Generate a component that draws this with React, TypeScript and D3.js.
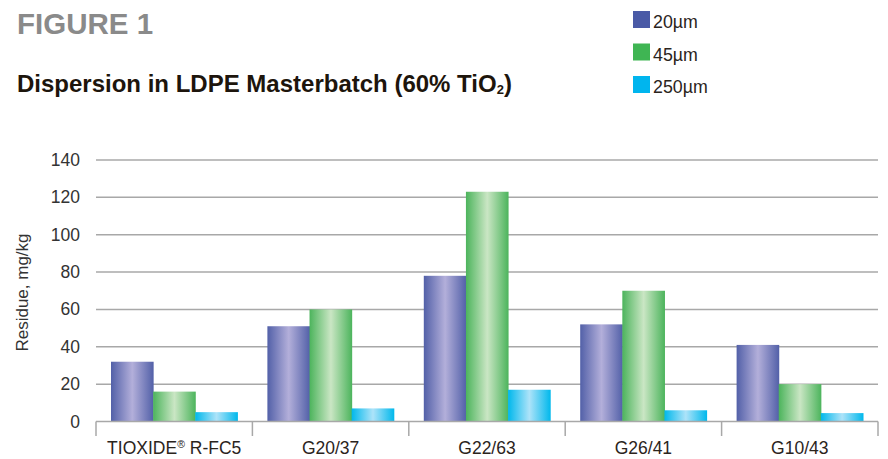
import React from "react";
import * as d3 from "d3";

const categories = ["TIOXIDE", "G20/37", "G22/63", "G26/41", "G10/43"];
const seriesNames = ["20µm", "45µm", "250µm"];
const values20 = [32, 51, 78, 52, 41];
const values45 = [16, 60, 123, 70, 20];
const values250 = [5, 7, 17, 6, 4.5];
const yTicks = [0, 20, 40, 60, 80, 100, 120, 140];

const seriesValues = [values20, values45, values250];
const colors = [
  { edge: "#5260a8", mid: "#b3afda", swatch: "#4a5aa6" },
  { edge: "#4cb45c", mid: "#cae6c4", swatch: "#3fb553" },
  { edge: "#00b8ec", mid: "#ade3f9", swatch: "#00b5ee" },
];

const width = 888;
const height = 459;
const margin = { top: 160, right: 10, bottom: 37.5, left: 96 };

export default function App() {
  const x = d3
    .scaleBand<string>()
    .domain(categories)
    .range([margin.left, 878])
    .paddingInner(0)
    .paddingOuter(0);
  const inner = d3
    .scaleBand<string>()
    .domain(seriesNames)
    .range([15, x.bandwidth() - 15]);
  const y = d3
    .scaleLinear()
    .domain([0, 140])
    .range([height - margin.bottom, margin.top]);

  const font = "'Liberation Sans', Arial, sans-serif";

  return (
    <svg
      width={width}
      height={height}
      style={{ position: "absolute", left: 0, top: 0, background: "#fff" }}
      fontFamily={font}
    >
      <defs>
        {colors.map((c, i) => (
          <linearGradient key={i} id={`grad${i}`} x1="0" x2="1" y1="0" y2="0">
            <stop offset="0%" stopColor={c.edge} />
            <stop offset="50%" stopColor={c.mid} />
            <stop offset="100%" stopColor={c.edge} />
          </linearGradient>
        ))}
      </defs>

      <text x={17} y={34} fontSize={29.5} fontWeight="bold" fill="#8a8a8a">
        FIGURE 1
      </text>
      <text x={17} y={92} fontSize={24} fontWeight="bold" fill="#1d150c">
        Dispersion in LDPE Masterbatch (60% TiO
        <tspan fontSize={13} dy={2}>2</tspan>
        <tspan dy={-2}>)</tspan>
      </text>

      {seriesNames.map((s, i) => (
        <g key={s} transform={`translate(633, ${11 + i * 32.5})`}>
          <rect width={17} height={17} fill={colors[i].swatch} />
          <text x={20} y={17} fontSize={17.8} fill="#2b241c">
            {s}
          </text>
        </g>
      ))}

      {yTicks.map((t) => (
        <g key={t}>
          {t > 0 && (
            <line
              x1={margin.left}
              x2={878}
              y1={y(t)}
              y2={y(t)}
              stroke="#a8a8a8"
              strokeWidth={1.5}
            />
          )}
          <text
            x={80}
            y={y(t) + 6}
            textAnchor="end"
            fontSize={17.5}
            fill="#333"
          >
            {t}
          </text>
        </g>
      ))}

      <text
        transform={`translate(28, ${292.5}) rotate(-90)`}
        textAnchor="middle"
        fontSize={17}
        fill="#333"
      >
        Residue, mg/kg
      </text>

      {categories.map((c, ci) => (
        <g key={c}>
          {seriesValues.map((vals, si) => (
            <rect
              key={si}
              x={(x(c) as number) + (inner(seriesNames[si]) as number)}
              y={y(vals[ci])}
              width={inner.bandwidth() + 0.5}
              height={y(0) - y(vals[ci])}
              fill={`url(#grad${si})`}
            />
          ))}
          <text
            x={(x(c) as number) + x.bandwidth() / 2}
            y={453.5}
            textAnchor="middle"
            fontSize={17.5}
            fill="#2b241c"
          >
            {c}
            {ci === 0 && (
              <>
                <tspan fontSize={10.5} dy={-6}>
                  ®
                </tspan>
                <tspan dy={6}> R-FC5</tspan>
              </>
            )}
          </text>
        </g>
      ))}

      <line
        x1={margin.left}
        x2={878}
        y1={y(0)}
        y2={y(0)}
        stroke="#a8a8a8"
        strokeWidth={1.5}
      />
      {[...categories.map((c) => x(c) as number), 878].map((tx, i) => (
        <line
          key={i}
          x1={tx}
          x2={tx}
          y1={y(0)}
          y2={436}
          stroke="#a8a8a8"
          strokeWidth={1.5}
        />
      ))}
    </svg>
  );
}
